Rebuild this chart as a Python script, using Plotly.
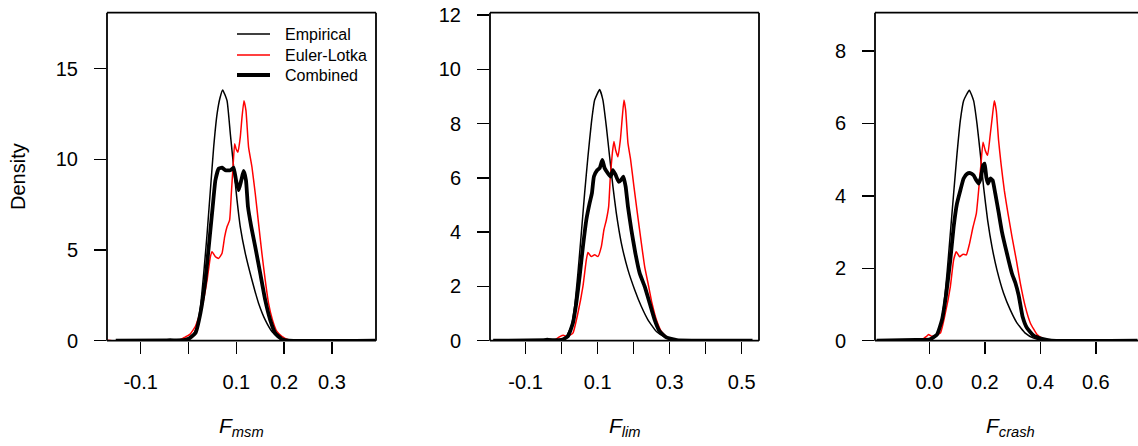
import plotly.graph_objects as go

# ---- density curves: F_msm panel ----
msm_emp_x = [-0.152, -0.06, -0.038, -0.02, 0.0077, 0.0181, 0.025, 0.0319, 0.039, 0.0458, 0.0527, 0.0598,
             0.066, 0.0715, 0.0806, 0.0875, 0.0944, 0.1015, 0.1083, 0.1188, 0.1327, 0.1465, 0.1604,
             0.1744, 0.1881, 0.20, 0.23, 0.39]
msm_emp_y = [0.0, 0.01, 0.08, 0.01, 0.24, 0.79, 1.88, 3.72, 5.92, 8.30, 10.68, 12.51,
             13.40, 13.83, 13.24, 11.41, 9.58, 7.75, 6.28, 4.82, 3.35, 2.07, 1.15,
             0.51, 0.15, 0.05, 0.0, 0.0]

msm_el_x = [-0.169, -0.16, -0.05, -0.02, -0.007, 0.003, 0.0146, 0.0285, 0.039, 0.0458, 0.0494, 0.0563,
            0.0631, 0.0702, 0.0756, 0.0806, 0.086, 0.0896, 0.0931, 0.0965, 0.0994, 0.1035, 0.1083,
            0.1119, 0.116, 0.1202, 0.1256, 0.1327, 0.1396, 0.1465, 0.1535, 0.1604, 0.1673, 0.1756,
            0.1848, 0.1952, 0.209, 0.23, 0.39]
msm_el_y = [0.03, 0.0, 0.0, 0.02, 0.2, 0.35, 0.79, 1.88, 3.35, 4.63, 4.91, 4.63,
            4.54, 4.82, 5.73, 6.28, 6.65, 8.12, 9.58, 10.86, 10.59, 10.40, 11.23,
            12.32, 13.24, 12.69, 10.68, 9.58, 8.12, 6.47, 4.82, 3.35, 2.07, 1.15,
            0.51, 0.24, 0.05, 0.0, 0.0]

msm_comb_x = [-0.152, -0.04, -0.01, 0.0, 0.0146, 0.025, 0.0354, 0.0438, 0.0506, 0.0563, 0.0631, 0.0702,
              0.0771, 0.0875, 0.0944, 0.0994, 0.1048, 0.1104, 0.1152, 0.1202, 0.1244, 0.1313, 0.1396,
              0.15, 0.1604, 0.1708, 0.1813, 0.1952, 0.21, 0.39]
msm_comb_y = [0.0, 0.02, 0.03, 0.1, 0.42, 1.52, 3.35, 5.55, 7.38, 8.85, 9.49, 9.54,
              9.40, 9.40, 9.54, 8.85, 8.30, 8.85, 9.36, 8.85, 7.38, 6.28, 5.18,
              3.72, 2.25, 1.15, 0.42, 0.09, 0.0, 0.0]

# ---- density curves: F_lim panel ----
lim_emp_x = [-0.19, -0.06, -0.04, -0.02, 0.0, 0.0131, 0.0269, 0.0361, 0.0453, 0.0547, 0.0639, 0.0731,
             0.0825, 0.0917, 0.1056, 0.1147, 0.1242, 0.1333, 0.1425, 0.1519, 0.1658, 0.1842, 0.2028,
             0.2214, 0.2397, 0.2631, 0.2861, 0.31, 0.53]
lim_emp_y = [0.0, 0.0, 0.08, 0.02, 0.03, 0.16, 0.53, 1.26, 2.49, 3.96, 5.44, 6.78,
             8.01, 8.87, 9.26, 8.87, 7.89, 6.78, 5.68, 4.70, 3.60, 2.61, 1.88,
             1.26, 0.77, 0.34, 0.14, 0.04, 0.0]

lim_el_x = [-0.19, -0.02, -0.005, 0.005, 0.015, 0.0314, 0.0453, 0.0592, 0.0686, 0.0731, 0.0825, 0.0917,
            0.1008, 0.1103, 0.1175, 0.1242, 0.1306, 0.1353, 0.1408, 0.1453, 0.15, 0.1564, 0.1631,
            0.1686, 0.1731, 0.1778, 0.1842, 0.1917, 0.2008, 0.2103, 0.2214, 0.2306, 0.2417, 0.2508,
            0.2631, 0.2769, 0.2953, 0.32, 0.53]
lim_el_y = [0.0, 0.02, 0.15, 0.2, 0.15, 0.28, 1.02, 2.00, 2.98, 3.25, 3.10, 3.17,
            3.10, 3.47, 4.09, 4.45, 4.94, 6.05, 6.91, 7.34, 7.03, 6.78, 7.40,
            8.26, 8.87, 8.50, 7.28, 6.66, 5.68, 4.70, 3.60, 2.73, 2.00, 1.39,
            0.77, 0.34, 0.10, 0.02, 0.0]

lim_comb_x = [-0.19, -0.04, 0.0, 0.0175, 0.0314, 0.0408, 0.05, 0.0592, 0.0686, 0.0778, 0.0842, 0.0897,
              0.0992, 0.1056, 0.1131, 0.1194, 0.1286, 0.1361, 0.1425, 0.15, 0.1583, 0.1658, 0.1714,
              0.1778, 0.1842, 0.1936, 0.2047, 0.2167, 0.2306, 0.2444, 0.2583, 0.2722, 0.2908, 0.32, 0.53]
lim_comb_y = [0.0, 0.02, 0.03, 0.16, 0.65, 1.39, 2.37, 3.47, 4.45, 5.07, 5.44, 6.05,
              6.29, 6.36, 6.66, 6.36, 6.17, 6.05, 6.29, 6.11, 5.86, 5.93, 6.05,
              5.68, 4.94, 4.09, 3.23, 2.49, 2.00, 1.39, 0.77, 0.34, 0.12, 0.02, 0.0]

# ---- density curves: F_crash panel ----
crash_emp_x = [-0.19, -0.05, 0.0, 0.0216, 0.0396, 0.0515, 0.0638, 0.0757, 0.0876, 0.0998, 0.1117, 0.1236,
               0.1441, 0.1596, 0.1719, 0.1838, 0.1957, 0.2101, 0.2259, 0.2439, 0.2677, 0.2918, 0.3158,
               0.3458, 0.3758, 0.41, 0.75]
crash_emp_y = [0.0, 0.02, 0.03, 0.12, 0.39, 0.94, 1.86, 2.96, 4.06, 5.16, 6.08, 6.63,
               6.92, 6.63, 5.99, 5.16, 4.24, 3.33, 2.59, 1.95, 1.31, 0.85, 0.49,
               0.21, 0.07, 0.01, 0.0]

crash_el_x = [-0.19, -0.03, -0.01, -0.003, 0.01, 0.0396, 0.0577, 0.0757, 0.0876, 0.0973, 0.1092, 0.1214,
              0.1333, 0.1452, 0.1575, 0.1694, 0.1777, 0.1863, 0.1935, 0.2018, 0.2101, 0.2198, 0.2281,
              0.2342, 0.2414, 0.2497, 0.2584, 0.2703, 0.2836, 0.298, 0.3135, 0.3279, 0.3459, 0.364,
              0.3881, 0.4119, 0.44, 0.75]
crash_el_y = [0.0, 0.02, 0.12, 0.17, 0.12, 0.21, 0.76, 1.49, 2.23, 2.46, 2.32, 2.39,
              2.37, 2.69, 3.14, 3.51, 4.15, 4.89, 5.48, 5.25, 5.12, 5.71, 6.26,
              6.63, 6.35, 5.53, 4.89, 4.15, 3.51, 2.87, 2.23, 1.59, 0.94, 0.49,
              0.17, 0.05, 0.0, 0.0]

crash_comb_x = [-0.19, -0.05, 0.0, 0.0277, 0.0458, 0.0613, 0.0757, 0.0876, 0.0998, 0.1117, 0.1236, 0.1358,
                0.1477, 0.1596, 0.1694, 0.1777, 0.1863, 0.1935, 0.1993, 0.2054, 0.2115, 0.2198, 0.2281,
                0.2378, 0.2497, 0.2619, 0.28, 0.298, 0.31, 0.322, 0.336, 0.3521, 0.3758, 0.4061, 0.44, 0.75]
crash_comb_y = [0.0, 0.02, 0.03, 0.17, 0.58, 1.31, 2.23, 3.14, 3.79, 4.15, 4.48, 4.61,
                4.63, 4.57, 4.43, 4.34, 4.52, 4.84, 4.89, 4.52, 4.34, 4.48, 4.43,
                4.06, 3.55, 3.0, 2.4, 1.85, 1.6, 1.25, 0.67, 0.35, 0.14, 0.05, 0.0, 0.0]

# ---- axis ticks (labelled ticks, plus unlabelled minor ticks) ----
msm_xticks = [-0.1, 0.1, 0.2, 0.3]
msm_xticks_minor = [0.0]
msm_yticks = [0, 5, 10, 15]
lim_xticks = [-0.1, 0.1, 0.3, 0.5]
lim_xticks_minor = [0.0, 0.2, 0.4]
lim_yticks = [0, 2, 4, 6, 8, 10, 12]
crash_xticks = [0.0, 0.2, 0.4, 0.6]
crash_xticks_minor = []
crash_yticks = [0, 2, 4, 6, 8]

series_names = ["Empirical", "Euler-Lotka", "Combined"]
series_colors = ["#000000", "#ff0000", "#000000"]
series_widths = [1.5, 1.5, 3.8]

FONT = "Liberation Sans, Arial, sans-serif"
W, H = 1138, 446

panels = [
    dict(curves=[(msm_emp_x, msm_emp_y), (msm_el_x, msm_el_y), (msm_comb_x, msm_comb_y)],
         xr=[-0.1703, 0.392], yr=[0, 18.09], xt=msm_xticks, xm=msm_xticks_minor, yt=msm_yticks,
         px=(107, 376), title="<i>F</i><sub><i>msm</i></sub>"),
    dict(curves=[(lim_emp_x, lim_emp_y), (lim_el_x, lim_el_y), (lim_comb_x, lim_comb_y)],
         xr=[-0.1988, 0.548], yr=[0, 12.09], xt=lim_xticks, xm=lim_xticks_minor, yt=lim_yticks,
         px=(490, 759), title="<i>F</i><sub><i>lim</i></sub>"),
    dict(curves=[(crash_emp_x, crash_emp_y), (crash_el_x, crash_el_y), (crash_comb_x, crash_comb_y)],
         xr=[-0.1957, 0.752], yr=[0, 9.06], xt=crash_xticks, xm=crash_xticks_minor, yt=crash_yticks,
         px=(875, 1138), title="<i>F</i><sub><i>crash</i></sub>"),
]

plot_top, plot_bottom = 12.7, 340.7
ydom = [(H - plot_bottom) / H, (H - plot_top) / H]

fig = go.Figure()
layout = dict(width=W, height=H, margin=dict(l=0, r=0, t=0, b=0, pad=0, autoexpand=False),
              paper_bgcolor="white", plot_bgcolor="white",
              font=dict(family=FONT, size=20, color="black"),
              showlegend=False, hovermode=False)
shapes, annotations = [], []

for i, p in enumerate(panels):
    sfx = "" if i == 0 else str(i + 1)
    xa, ya = "x" + sfx, "y" + sfx
    for j, (cx, cy) in enumerate(p["curves"]):
        fig.add_trace(go.Scatter(
            x=cx, y=cy, mode="lines", xaxis=xa, yaxis=ya, name=series_names[j],
            line=dict(color=series_colors[j], width=series_widths[j], shape="spline", smoothing=0.4)))
    x0, x1 = p["px"]
    axis_common = dict(showgrid=False, zeroline=False, showline=False, ticks="outside",
                       ticklen=12, tickwidth=1.5, tickcolor="black", automargin=False,
                       tickfont=dict(family=FONT, size=20, color="black"), fixedrange=True)
    xaxis = dict(axis_common, domain=[x0 / W, x1 / W], range=p["xr"], anchor=ya,
                 tickmode="array", tickvals=p["xt"], ticktext=[f"{v:.1f}" for v in p["xt"]],
                 ticklabelstandoff=11)
    if p["xm"]:
        xaxis["minor"] = dict(tickmode="array", tickvals=p["xm"], ticks="outside",
                              ticklen=12, tickwidth=1.5, tickcolor="black", showgrid=False)
    layout["xaxis" + sfx] = xaxis
    layout["yaxis" + sfx] = dict(axis_common, domain=ydom, range=p["yr"], anchor=xa,
                                 tickmode="array", tickvals=p["yt"],
                                 ticktext=[str(v) for v in p["yt"]], ticklabelstandoff=12)
    # plot frame (right edge of last panel runs past the page)
    right = 1.0 if i < 2 else (1145 - 875) / (1138 - 875)
    for (a, b, c, d) in [(0, 0, 0, 1), (0, 1, right, 1), (0, 0, right, 0), (right, 0, right, 1)]:
        shapes.append(dict(type="line", xref=xa + " domain", yref=ya + " domain",
                           x0=a, y0=b, x1=c, y1=d, line=dict(color="black", width=1.8), layer="above"))
    annotations.append(dict(text=p["title"], xref="paper", yref="paper",
                            x=((x0 + (x1 if i < 2 else 1145)) / 2) / W, y=1 - 427 / H,
                            xanchor="center", yanchor="middle", showarrow=False,
                            font=dict(family=FONT, size=21, color="black")))

annotations.append(dict(text="Density", xref="paper", yref="paper", x=18 / W, y=1 - 177 / H,
                        textangle=-90, xanchor="center", yanchor="middle", showarrow=False,
                        font=dict(family=FONT, size=20, color="black")))

# legend: line samples and labels in the first panel
legend_rows = [34, 55, 75]
for name, color, width, row in zip(series_names, series_colors, series_widths, legend_rows):
    shapes.append(dict(type="line", xref="paper", yref="paper", x0=237 / W, x1=270 / W,
                       y0=1 - row / H, y1=1 - row / H, line=dict(color=color, width=width)))
    annotations.append(dict(text=name, xref="paper", yref="paper", x=283 / W, y=1 - row / H,
                            xanchor="left", yanchor="middle", showarrow=False,
                            font=dict(family=FONT, size=16, color="black")))

layout["shapes"] = shapes
layout["annotations"] = annotations
fig.update_layout(**layout)

fig.write_html("out.html", config={"displayModeBar": False, "staticPlot": True})
